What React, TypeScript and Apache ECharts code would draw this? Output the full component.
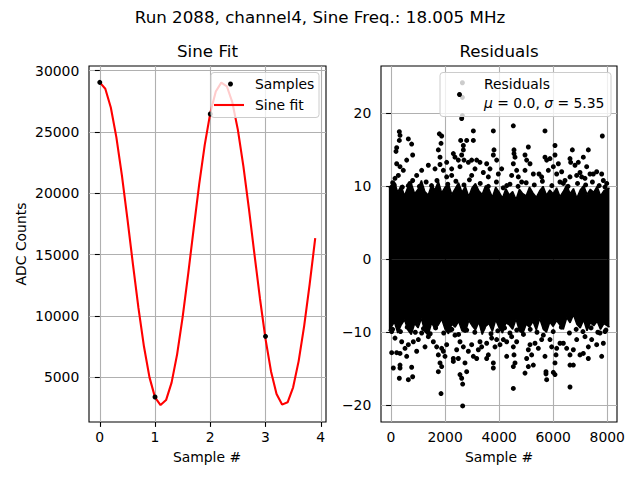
import React, { useEffect, useRef } from "react";
import * as echarts from "echarts";

// Sine fit panel
const sampleX = [0, 1, 2, 3];
const sampleY = [29050, 3370, 26470, 8320];

const fitX = [
  0, 0.1, 0.2, 0.3, 0.4, 0.5, 0.6, 0.7, 0.8, 0.9, 1.0, 1.1, 1.2, 1.3, 1.4, 1.5, 1.6, 1.7, 1.8, 1.9,
  2.0, 2.1, 2.2, 2.3, 2.4, 2.5, 2.6, 2.7, 2.8, 2.9, 3.0, 3.1, 3.2, 3.3, 3.4, 3.5, 3.6, 3.7, 3.8, 3.9,
];
const fitY = [
  29050, 28530, 27000, 24580, 21480, 17930, 14220, 10640, 7490, 4970, 3340, 2710, 3120, 4540, 6850,
  9890, 13400, 17120, 20750, 23950, 26540, 28300, 29030, 28730, 27410, 25170, 22200, 18730, 15020,
  11390, 8120, 5460, 3620, 2750, 2940, 4160, 6300, 9180, 12600, 16330,
];

const fitXTicks = [0, 1, 2, 3, 4];
const fitYTicks = [5000, 10000, 15000, 20000, 25000, 30000];

// Residuals panel: dense core band (upper / lower edge) and the points outside it
const bandX = [
  -80, 125, 250, 375, 500, 625, 750, 875, 1000, 1125, 1250, 1375, 1500, 1625, 1750, 1875, 2000,
  2125, 2250, 2375, 2500, 2625, 2750, 2875, 3000, 3125, 3250, 3375, 3500, 3625, 3750, 3875, 4000,
  4125, 4250, 4375, 4500, 4625, 4750, 4875, 5000, 5125, 5250, 5375, 5500, 5625, 5750, 5875, 6000,
  6125, 6250, 6375, 6500, 6625, 6750, 6875, 7000, 7125, 7250, 7375, 7500, 7625, 7750, 7875, 8080,
];
const bandUpper = [
  9.8, 10.6, 9.2, 10.1, 8.7, 9.9, 10.4, 9.0, 9.6, 10.8, 9.3, 8.8, 10.2, 9.5, 10.7, 9.1,
  9.9, 10.3, 8.9, 9.7, 10.5, 9.2, 10.0, 8.6, 9.8, 10.4, 9.4, 8.9, 10.1, 9.6, 8.5, 9.9,
  9.2, 8.4, 9.7, 8.8, 9.3, 8.2, 9.6, 9.0, 8.7, 9.9, 9.1, 8.5, 9.4, 10.0, 8.8, 9.5,
  9.0, 9.8, 8.6, 9.3, 10.2, 9.0, 9.7, 8.4, 9.5, 10.1, 8.9, 9.6, 9.2, 10.0, 8.7, 9.4, 9.8,
];
const bandLower = [
  -9.8, -8.6, -10.1, -9.0, -8.3, -9.7, -10.3, -8.8, -9.4, -8.1, -9.9, -10.4, -8.7, -9.5, -9.0, -8.2,
  -9.6, -10.2, -8.9, -9.3, -8.5, -9.8, -10.0, -8.4, -9.1, -9.7, -8.6, -10.3, -9.2, -8.8, -9.9, -8.3,
  -9.4, -10.1, -8.7, -9.0, -9.6, -8.2, -9.8, -10.2, -8.9, -9.3, -8.5, -9.7, -8.1, -9.5, -10.0, -8.6,
  -9.2, -8.4, -9.0, -9.6, -8.0, -8.7, -7.6, -8.9, -9.4, -8.3, -9.8, -8.7, -9.1, -8.5, -9.6, -8.8, -9.3,
];

const highPoints: [number, number][] = [
  [308, 17.5], [333, 17.0], [308, 16.3], [210, 15.3], [185, 14.8], [641, 16.5], [764, 15.8],
  [801, 14.3], [580, 13.6], [210, 13.1], [333, 12.7], [456, 12.2], [271, 11.5], [148, 11.1],
  [62, 10.5], [1134, 12.2], [1381, 12.9], [949, 11.5], [801, 10.8], [641, 10.1], [1788, 17.2],
  [1874, 16.9], [1850, 15.9], [1751, 15.0], [1813, 14.0], [1813, 13.0], [1628, 12.4], [1936, 12.2],
  [2059, 13.3], [2244, 12.4], [2059, 11.3], [2244, 11.5], [2614, 19.3], [2641, 19.7], [2641, 22.2],
  [2641, 24.2], [2577, 16.3], [2676, 15.6], [2799, 16.3], [2676, 15.0], [2614, 14.3], [2491, 13.6],
  [2700, 13.6], [2861, 13.3], [2552, 12.7], [2367, 14.0], [2306, 14.5], [3046, 17.6], [3046, 16.3],
  [2984, 13.6], [3169, 13.6], [3292, 13.3], [3107, 12.4], [2984, 11.5], [3415, 11.9], [3539, 13.1],
  [3785, 14.3], [3810, 15.0], [3785, 17.6], [3909, 13.6], [3662, 12.4], [3970, 11.7], [3600, 11.3],
  [4094, 12.4], [4279, 10.1], [4525, 18.3], [4550, 15.0], [4550, 14.5], [4587, 14.0], [4525, 13.1],
  [4648, 12.2], [4463, 11.5], [4710, 11.3], [5080, 15.4], [4957, 14.3], [5018, 13.6], [5142, 13.1],
  [4957, 12.2], [5265, 11.7], [4833, 10.6], [5475, 11.7], [5573, 11.3], [5696, 17.6], [5696, 14.0],
  [5758, 13.6], [5881, 13.8], [6066, 14.3], [6066, 15.6], [6005, 12.7], [5820, 12.2], [6190, 13.1],
  [6128, 11.7], [6313, 12.0], [6375, 10.4], [6621, 13.8], [6708, 15.0], [6646, 13.3], [6806, 12.9],
  [6929, 13.3], [6991, 11.9], [7114, 14.0], [7299, 15.0], [7238, 12.7], [7361, 11.7], [7484, 11.7],
  [7608, 12.0], [7793, 11.7], [7817, 16.9], [7854, 10.8], [7916, 9.9], [6621, 11.3], [6868, 11.5],
  [6436, 10.8], [7053, 11.3], [7176, 11.1],
];

const lowPoints: [number, number][] = [
  [86, -14.9], [308, -16.3], [333, -14.9], [333, -14.5], [641, -16.5], [801, -16.1], [764, -14.8],
  [210, -12.8], [25, -12.8], [333, -12.9], [580, -13.3], [518, -12.2], [641, -11.7], [148, -10.8],
  [395, -11.3], [826, -11.3], [1011, -11.0], [949, -12.6], [1258, -12.0], [1134, -10.1],
  [1381, -10.6], [25, -9.9], [1751, -15.4], [1813, -14.2], [1874, -14.7], [1850, -18.4],
  [1689, -12.0], [1874, -12.2], [1936, -12.6], [1751, -13.1], [1997, -13.3], [1566, -11.3],
  [2059, -11.7], [2182, -9.7], [2306, -13.6], [2306, -14.0], [2491, -13.6], [2552, -15.8],
  [2614, -16.3], [2651, -17.1], [2651, -20.1], [2799, -15.4], [2737, -14.2], [2429, -12.4],
  [2676, -12.0], [2861, -12.6], [2984, -11.7], [2552, -11.3], [2367, -10.4], [3046, -13.3],
  [3169, -13.6], [3230, -12.4], [3354, -12.0], [3292, -11.3], [3539, -13.6], [3600, -13.1],
  [3539, -11.5], [3724, -10.8], [3785, -14.2], [3785, -14.9], [3847, -12.0], [3909, -11.0],
  [4032, -11.7], [4155, -11.0], [4279, -11.3], [4279, -13.3], [4463, -10.6], [4525, -12.0],
  [4550, -13.1], [4587, -14.2], [4525, -14.7], [4525, -17.7], [4648, -11.3], [4772, -9.5],
  [4957, -15.6], [5080, -14.7], [5018, -13.6], [5080, -12.4], [5142, -11.7], [5203, -13.1],
  [5265, -14.5], [5327, -11.5], [5450, -12.2], [5573, -11.0], [5635, -10.4], [5696, -13.3],
  [5733, -15.4], [5758, -16.5], [5733, -15.7], [6005, -15.5], [6066, -15.8], [6066, -14.2],
  [6103, -13.1], [6128, -12.2], [5943, -12.0], [5881, -11.0], [6251, -11.5], [6375, -11.5],
  [6498, -12.2], [6621, -13.1], [6621, -14.5], [6745, -14.5], [6621, -17.5], [6745, -12.4],
  [6868, -11.0], [6991, -13.1], [7114, -12.9], [7299, -13.6], [7299, -12.0], [7176, -10.6],
  [7423, -11.0], [7608, -11.7], [7793, -13.3], [7854, -11.5], [7916, -9.9], [7731, -10.1],
];

const edgePoints: [number, number][] = [
  [120, 10.2], [420, 9.9], [700, 10.4], [1050, 10.0], [1300, 10.6], [1500, 10.1], [1700, 10.8],
  [2100, 10.3], [2400, 10.7], [2700, 10.2], [2900, 10.9], [3300, 10.4], [3600, 10.0], [3900, 10.6],
  [4150, 9.8], [4400, 10.3], [4700, 10.0], [5000, 10.5], [5300, 10.2], [5600, 10.7], [5950, 10.1],
  [6250, 10.6], [6550, 10.0], [6900, 10.4], [7200, 10.2], [7450, 10.6], [7700, 10.1], [7980, 10.4],
  [60, -9.6], [350, -9.9], [600, -9.3], [900, -10.0], [1200, -9.5], [1450, -10.2], [1650, -9.4],
  [1950, -10.1], [2250, -9.6], [2500, -10.3], [2800, -9.7], [3100, -10.0], [3400, -9.5],
  [3700, -10.2], [3950, -9.8], [4200, -9.4], [4400, -10.1], [4650, -9.7], [4900, -10.3],
  [5150, -9.6], [5400, -10.0], [5700, -9.5], [6000, -9.9], [6300, -9.3], [6600, -10.1],
  [6850, -9.6], [7100, -9.9], [7400, -9.4], [7650, -10.0], [7950, -9.7],
];

const resXTicks = [0, 2000, 4000, 6000, 8000];
const resYTicks = [-20, -10, 0, 10, 20];

const FONT = "DejaVu Sans, sans-serif";
const minus = (v: number) => (v < 0 ? "\u2212" + Math.abs(v) : String(v));

function axisBase(ticks: number[], fmt: (v: number) => string, isX: boolean) {
  return {
    type: "value" as const,
    axisLine: { show: false },
    axisTick: {
      show: true,
      customValues: ticks,
      length: 4.9,
      lineStyle: { color: "#000", width: 1.1 },
    },
    axisLabel: {
      customValues: ticks,
      color: "#000",
      fontSize: 13.9,
      fontFamily: FONT,
      margin: isX ? 8 : 9.7,
      formatter: (v: number) => fmt(v),
    },
    splitLine: { show: true, lineStyle: { color: "#b0b0b0", width: 1.1 } },
  };
}

export default function App() {
  const ref = useRef<HTMLDivElement>(null);

  useEffect(() => {
    document.body.style.margin = "0";
    if (!ref.current) return;
    const chart = echarts.init(ref.current, undefined, { renderer: "svg" });

    const txt = (x: number, y: number, text: string, size: number, extra: any = {}) => ({
      type: "text",
      x,
      y,
      z: 100,
      style: {
        text,
        fill: "#000",
        font: `${size}px ${FONT}`,
        textAlign: "center",
        textVerticalAlign: "middle",
        ...extra,
      },
    });

    const dot = { color: "#000", opacity: 1 };

    const option: echarts.EChartsOption = {
      animation: false,
      backgroundColor: "#fff",
      grid: [
        { left: 89, top: 66, width: 237, height: 356, show: true, borderColor: "#000", borderWidth: 1.1, backgroundColor: "transparent" },
        { left: 381, top: 66, width: 236, height: 356, show: true, borderColor: "#000", borderWidth: 1.1, backgroundColor: "transparent" },
      ],
      xAxis: [
        { ...axisBase(fitXTicks, (v) => String(v), true), gridIndex: 0, min: -0.195, max: 4.095 },
        { ...axisBase(resXTicks, (v) => String(v), true), gridIndex: 1, min: -370, max: 8360 },
      ] as any,
      yAxis: [
        { ...axisBase(fitYTicks, (v) => String(v), false), gridIndex: 0, min: 1330, max: 30385 },
        { ...axisBase(resYTicks, minus, false), gridIndex: 1, min: -22.3, max: 26.5 },
      ] as any,
      series: [
        {
          type: "line",
          xAxisIndex: 0,
          yAxisIndex: 0,
          data: fitX.map((x, i) => [x, fitY[i]]),
          showSymbol: false,
          symbol: "none",
          lineStyle: { color: "#ff0000", width: 2.1 },
          z: 2,
        },
        {
          type: "scatter",
          xAxisIndex: 0,
          yAxisIndex: 0,
          data: sampleX.map((x, i) => [x, sampleY[i]]),
          symbolSize: 5,
          itemStyle: dot,
          z: 3,
        },
        {
          type: "line",
          xAxisIndex: 1,
          yAxisIndex: 1,
          data: bandX.map((x, i) => [x, bandUpper[i]]),
          symbol: "none",
          lineStyle: { color: "#000", width: 1.5 },
          areaStyle: { color: "#000", opacity: 1 },
          z: 2,
        },
        {
          type: "line",
          xAxisIndex: 1,
          yAxisIndex: 1,
          data: bandX.map((x, i) => [x, bandLower[i]]),
          symbol: "none",
          lineStyle: { color: "#000", width: 1.5 },
          areaStyle: { color: "#000", opacity: 1 },
          z: 2,
        },
        {
          type: "scatter",
          xAxisIndex: 1,
          yAxisIndex: 1,
          data: [...highPoints, ...lowPoints, ...edgePoints],
          symbolSize: 5,
          itemStyle: dot,
          z: 3,
        },
      ],
      graphic: [
        txt(320, 17, "Run 2088, channel4, Sine Freq.: 18.005 MHz", 16.7),
        txt(207.5, 51, "Sine Fit", 16.7),
        txt(499, 51, "Residuals", 16.7),
        txt(207, 457, "Sample #", 13.9),
        txt(499, 457, "Sample #", 13.9),
        { ...txt(21, 244, "ADC Counts", 13.9), rotation: Math.PI / 2 },
        // left legend
        {
          type: "rect",
          z: 100,
          shape: { x: 211, y: 72.5, width: 108, height: 45, r: 3 },
          style: { fill: "rgba(255,255,255,0.8)", stroke: "#cccccc", lineWidth: 1 },
        },
        { type: "circle", z: 101, shape: { cx: 230.5, cy: 84, r: 2.5 }, style: { fill: "#000" } },
        txt(255, 84, "Samples", 13.9, { textAlign: "left" }),
        {
          type: "line",
          z: 101,
          shape: { x1: 214, y1: 105, x2: 244, y2: 105 },
          style: { stroke: "#ff0000", lineWidth: 2.1 },
        },
        txt(255, 105, "Sine fit", 13.9, { textAlign: "left" }),
        // right legend
        {
          type: "rect",
          z: 100,
          shape: { x: 440, y: 72.5, width: 171, height: 44, r: 3 },
          style: { fill: "rgba(255,255,255,0.8)", stroke: "#cccccc", lineWidth: 1 },
        },
        { type: "circle", z: 101, shape: { cx: 459.5, cy: 94.5, r: 2.5 }, style: { fill: "#000" } },
        txt(484, 84, "Residuals", 13.9, { textAlign: "left" }),
        {
          type: "text",
          x: 484,
          y: 103,
          z: 101,
          style: {
            text: "{i|μ} = 0.0, {i|σ} = 5.35",
            fill: "#000",
            font: `13.9px ${FONT}`,
            textAlign: "left",
            textVerticalAlign: "middle",
            rich: {
              i: { fontStyle: "italic", fontSize: 13.9, fontFamily: FONT, fill: "#000" } as any,
            },
          },
        },
      ] as any,
    };

    chart.setOption(option);
    return () => chart.dispose();
  }, []);

  return <div ref={ref} style={{ width: 640, height: 480 }} />;
}
